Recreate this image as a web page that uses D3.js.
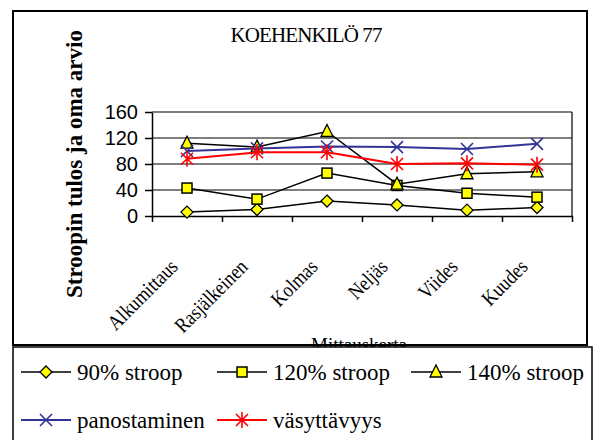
<!DOCTYPE html>
<html><head><meta charset="utf-8">
<script src="https://cdn.jsdelivr.net/npm/d3@7"></script>
<style>body{margin:0;background:#fff}svg{display:block}</style>
</head><body>
<script>
const categories = ["Alkumittaus","Rasjälkeinen","Kolmas","Neljäs","Viides","Kuudes"];
const stroop90 = [6, 10, 23, 17, 9, 13];
const stroop120 = [43, 26, 66, 47, 35, 29];
const stroop140 = [112, 106, 130, 49, 65, 68];
const panostaminen = [100, 104, 107, 106, 103, 111];
const vasyttavyys = [88, 98, 98, 80, 81, 79];
const yTicks = [0, 40, 80, 120, 160];
const seriesNames = ["90% stroop","120% stroop","140% stroop","panostaminen","väsyttävyys"];
const titleText = "KOEHENKILÖ 77";
const yTitle = "Stroopin tulos ja oma arvio";
const xTitle = "Mittauskerta";

const W = 596, H = 440;
const svg = d3.select("body").append("svg").attr("width", W).attr("height", H);
const serif = "'Liberation Serif','Times New Roman',serif";
const sans = "'Liberation Sans',Arial,sans-serif";

const plot = {l:152, r:572, t:112, b:216};
const x = d3.scaleBand().domain(categories).range([plot.l, plot.r]);
const xi = d3.scaleLinear().domain([0, categories.length]).range([plot.l, plot.r]);
const y = d3.scaleLinear().domain([0, 160]).range([plot.b, plot.t]);
const cx = c => x(c) + x.bandwidth()/2;

// chart area border
svg.append("rect").attr("x",13).attr("y",11).attr("width",574).attr("height",334)
  .attr("fill","#fff").attr("stroke","#000").attr("stroke-width",2);

// title
svg.append("text").attr("x",306).attr("y",42).attr("text-anchor","middle")
  .attr("font-family",serif).attr("font-size",21).attr("letter-spacing",-0.9)
  .text(titleText);

// y title
svg.append("text").attr("transform","translate(82,164) rotate(-90)")
  .attr("text-anchor","middle").attr("font-family",serif).attr("font-weight","bold")
  .attr("font-size",23).text(yTitle);

// gridlines
svg.append("g").selectAll("line").data(yTicks.filter(d=>d>0)).join("line")
  .attr("x1",plot.l).attr("x2",plot.r).attr("y1",d=>y(d)).attr("y2",d=>y(d))
  .attr("stroke","#000").attr("stroke-width",1.2);
svg.append("line").attr("x1",plot.r).attr("x2",plot.r).attr("y1",plot.t).attr("y2",plot.b)
  .attr("stroke","#000").attr("stroke-width",1.2);

// y axis
const ya = svg.append("g").attr("transform",`translate(${plot.l},0)`)
  .call(d3.axisLeft(y).tickValues(yTicks).tickSize(7).tickSizeOuter(0).tickPadding(7));
ya.selectAll("text").attr("font-family",sans).attr("font-size",20).attr("fill","#000");
ya.selectAll("line,path").attr("stroke","#000").attr("stroke-width",1.5);

// x axis
const xa = svg.append("g").attr("transform",`translate(0,${plot.b})`)
  .call(d3.axisBottom(xi).tickValues(d3.range(categories.length+1)).tickFormat("").tickSize(6).tickSizeOuter(0));
xa.selectAll("line,path").attr("stroke","#000").attr("stroke-width",1.5);

// x labels
svg.append("g").selectAll("text").data(categories).join("text")
  .attr("transform",d=>`translate(${cx(d)-8},${plot.b+52}) rotate(-45) scale(0.86,1)`)
  .attr("text-anchor","end").attr("font-family",serif).attr("font-size",21)
  .text(d=>d);

// x title
svg.append("text").attr("x",359).attr("y",351).attr("text-anchor","middle")
  .attr("font-family",serif).attr("font-size",19).text(xTitle);

// markers
function marker(g, type, color){
  if(type==="diamond"){
    g.append("path").attr("d","M0,-6L6,0L0,6L-6,0Z").attr("fill","#ffff00").attr("stroke","#000").attr("stroke-width",1.3);
  } else if(type==="square"){
    g.append("rect").attr("x",-5).attr("y",-5).attr("width",10).attr("height",10).attr("fill","#ffff00").attr("stroke","#000").attr("stroke-width",1.5);
  } else if(type==="triangle"){
    g.append("path").attr("d","M0,-7L6,5L-6,5Z").attr("fill","#ffff00").attr("stroke","#000").attr("stroke-width",1.3);
  } else if(type==="x"){
    g.append("path").attr("d","M-6,-6L6,6M-6,6L6,-6").attr("stroke",color).attr("stroke-width",1.6).attr("fill","none");
  } else if(type==="star"){
    g.append("path").attr("d","M-6,-6L6,6M-6,6L6,-6M0,-8L0,8").attr("stroke",color).attr("stroke-width",1.6).attr("fill","none");
  }
}

const series = [
  {name:seriesNames[0], values:stroop90, color:"#000", m:"diamond", w:1.5},
  {name:seriesNames[1], values:stroop120, color:"#000", m:"square", w:1.5},
  {name:seriesNames[2], values:stroop140, color:"#000", m:"triangle", w:1.5},
  {name:seriesNames[3], values:panostaminen, color:"#333399", m:"x", w:2},
  {name:seriesNames[4], values:vasyttavyys, color:"#ff0000", m:"star", w:2}
];

const line = d3.line().x((d,i)=>cx(categories[i])).y(d=>y(d));
series.forEach(s=>{
  const g = svg.append("g");
  g.append("path").attr("d",line(s.values)).attr("fill","none").attr("stroke",s.color).attr("stroke-width",s.w);
  s.values.forEach((v,i)=>{
    marker(g.append("g").attr("transform",`translate(${cx(categories[i])},${y(v)})`), s.m, s.color);
  });
});

// legend
svg.append("rect").attr("x",13).attr("y",347).attr("width",579).attr("height",100)
  .attr("fill","#fff").attr("stroke","#000").attr("stroke-width",1.5);
const legPos = [[21,372],[217,372],[411,372],[21,420],[217,420]];
series.forEach((s,i)=>{
  const [lx,ly] = legPos[i];
  const g = svg.append("g").attr("transform",`translate(${lx},${ly})`);
  g.append("line").attr("x1",0).attr("x2",50).attr("y1",0).attr("y2",0).attr("stroke",s.color).attr("stroke-width",s.w);
  marker(g.append("g").attr("transform","translate(25,0)"), s.m, s.color);
  g.append("text").attr("x",56).attr("y",8).attr("font-family",serif).attr("font-size",23).text(s.name);
});
</script>
</body></html>
